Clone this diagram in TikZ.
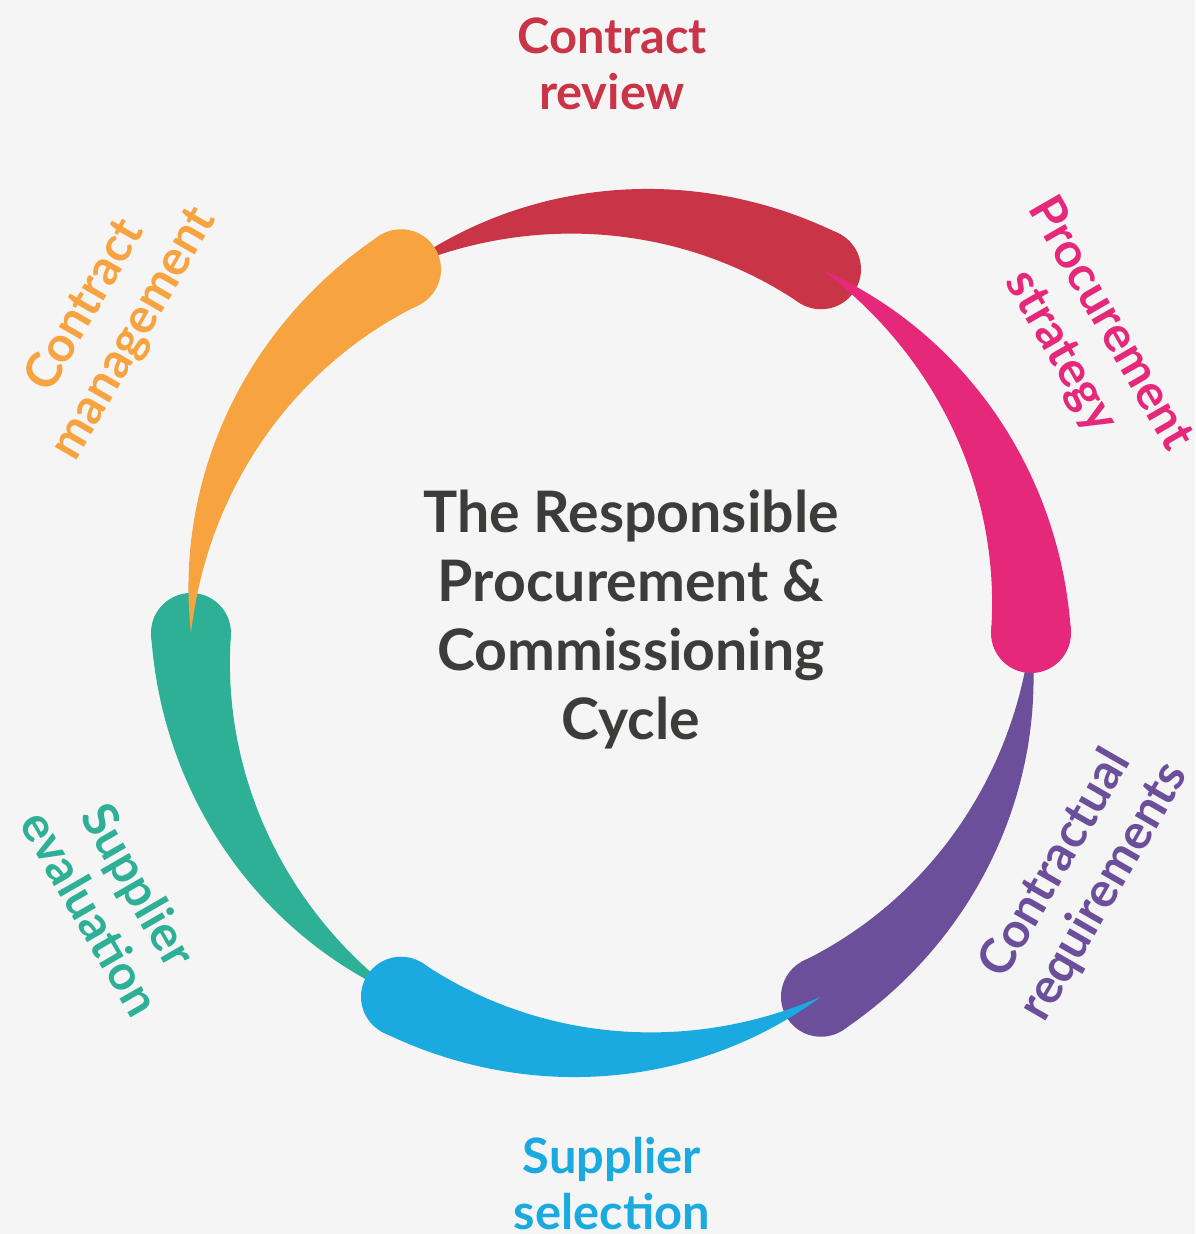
\documentclass[tikz,border=0pt]{standalone}
\usepackage{fontspec}
\setmainfont{Lato}
\definecolor{bggray}{HTML}{F5F5F5}
\definecolor{titlegray}{HTML}{3C3C3B}
\definecolor{reviewred}{HTML}{C93447}
\definecolor{strategypink}{HTML}{E6287A}
\definecolor{requirementspurple}{HTML}{6B4F9A}
\definecolor{selectionblue}{HTML}{1AAAE0}
\definecolor{evaluationgreen}{HTML}{2DB095}
\definecolor{managementorange}{HTML}{F6A340}
\begin{document}
\begin{tikzpicture}[x=0.5pt, y=0.5pt,
    stage/.style={font=\bfseries\fontsize{24.4}{28}\selectfont, align=center, inner sep=0pt},
    cycletitle/.style={font=\bfseries\fontsize{28.6}{34.5}\selectfont, text=titlegray, align=center, inner sep=0pt}]
  \def \radius {420}
  % one tapered stroke: head angle, colour
  \def \comet #1#2{%
    \fill[#2] plot[domain=0:1, samples=50] ({#1+60*(1-\x)}:{\radius+40*\x*(1.25-0.25*\x)})
      -- plot[domain=1:0, samples=50] ({#1+60*(1-\x)}:{\radius-40*\x*(1.25-0.25*\x)}) -- cycle;
    \fill[#2] (#1:\radius) circle (40);}

  \useasboundingbox (-611,-601) rectangle (584,633);
  \fill[bggray] (-611,-601) rectangle (584,633);

  \comet{60}{reviewred}
  \comet{-60}{requirementspurple}
  \comet{180}{evaluationgreen}
  \comet{0}{strategypink}
  \comet{240}{selectionblue}
  \comet{120}{managementorange}

  \node[cycletitle] (title) at (20,13) {The Responsible\\Procurement \&\\Commissioning\\Cycle};

  \node[stage, text=reviewred] (review) at (1,569) {Contract\\review};
  \node[stage, text=strategypink, rotate=-60] (strategy) at (474,295) {Procurement\\strategy};
  \node[stage, text=requirementspurple, rotate=60] (requirements) at (469,-245) {Contractual\\requirements};
  \node[stage, text=selectionblue] (selection) at (1,-551) {Supplier\\selection};
  \node[stage, text=evaluationgreen, rotate=-60] (evaluation) at (-496,-266) {Supplier\\evaluation};
  \node[stage, text=managementorange, rotate=60] (management) at (-501,313) {Contract\\management};
\end{tikzpicture}
\end{document}
